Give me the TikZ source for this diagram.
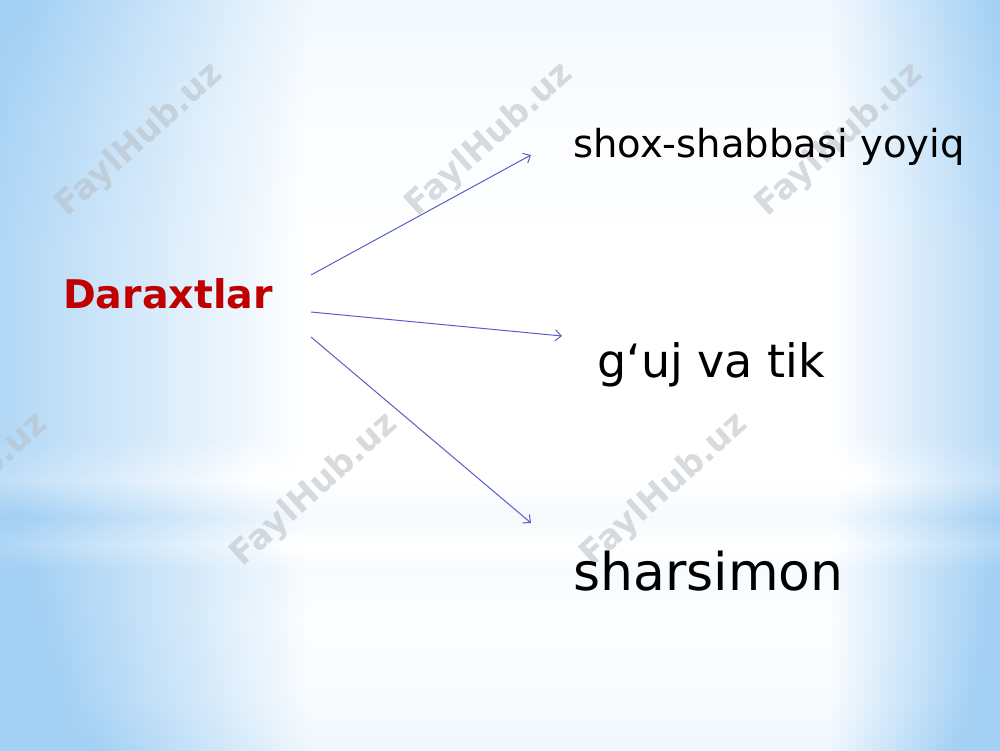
\documentclass[tikz,border=0pt]{standalone}
\usepackage{fontspec}
\setmainfont{DejaVu Sans}
\usepackage{tikz}
\usetikzlibrary{arrows.meta}
\definecolor{sky}{HTML}{A3D0F4}
\definecolor{arrowblue}{HTML}{5A5EC4}
\definecolor{darred}{HTML}{C00000}
\definecolor{wmgray}{HTML}{B8BEC4}
\tikzset{
  arr/.style={-{Straight Barb[length=6pt,width=11pt]}, draw=arrowblue, line width=1pt},
  wmark/.style={text=wmgray, opacity=0.55, rotate=42, font=\bfseries\fontsize{34}{34}\selectfont},
  item/.style={anchor=base west, inner sep=0pt, text=black}
}

\begin{document}
\begin{tikzpicture}[x=1pt,y=-1pt]
\useasboundingbox (0,0) rectangle (1000,750);
% background: vertical strips, bluer at the sides
\foreach \i in {0,...,124} {
  \pgfmathsetmacro\xc{8*\i+4}
  \pgfmathsetmacro\hh{max(0,0.85*(1-\xc/310))+max(0,0.8*(\xc-830)/170)}
  \xdef\spec{}
  \foreach \y/\m/\v [count=\k] in {750/1.4/0.18, 700/1.35/0.08, 620/1.3/0.04, 570/1.2/0.08, 545/1.1/-0.05, 517/1.15/0.1, 480/1/-0.15, 440/1/0, 250/1/0, 120/1.05/0.05, 0/1.1/0.15} {
    \pgfmathtruncatemacro\pc{max(0,min(100,100*(\hh*\m+\v)))}
    \pgfmathsetmacro\pos{25+(750-\y)/15}
    \ifnum\k=1 \xdef\spec{color(0bp)=(sky!\pc!white)}\fi
    \xdef\spec{\spec; color(\pos bp)=(sky!\pc!white)}
    \ifnum\k=11 \xdef\spec{\spec; color(100bp)=(sky!\pc!white)}\fi
  }
  \edef\tmp{\noexpand\pgfdeclareverticalshading{bgs\i}{100bp}{\spec}}\tmp
  \shade[shading=bgs\i] (8*\i,0) rectangle (8*\i+8.6,750);
}

% watermarks
\foreach \x/\y in {140/140, 490/140, 840/140, -35/490, 315/490, 665/490} {
\node[wmark] at (\x,\y) {FaylHub.uz};
}

\node[item, text=darred, font=\bfseries\fontsize{39.5}{44}\selectfont] (dar) at (63,308) {Daraxtlar};
\node[item, font=\fontsize{38.5}{42}\selectfont] (shox) at (573,157) {shox-shabbasi yoyiq};
\node[item, font=\fontsize{46}{48}\selectfont] (guj) at (597,377) {g‘uj va tik};
\node[item, font=\fontsize{52}{56}\selectfont] (shar) at (573,590) {sharsimon};

\coordinate (d1) at (311,275);
\coordinate (d2) at (311,312);
\coordinate (d3) at (311,337);
\coordinate (e1) at (531,155);
\coordinate (e2) at (562,336);
\coordinate (e3) at (531,523);

\draw[arr] (d1) -- (e1);
\draw[arr] (d2) -- (e2);
\draw[arr] (d3) -- (e3);

\end{tikzpicture}
\end{document}
